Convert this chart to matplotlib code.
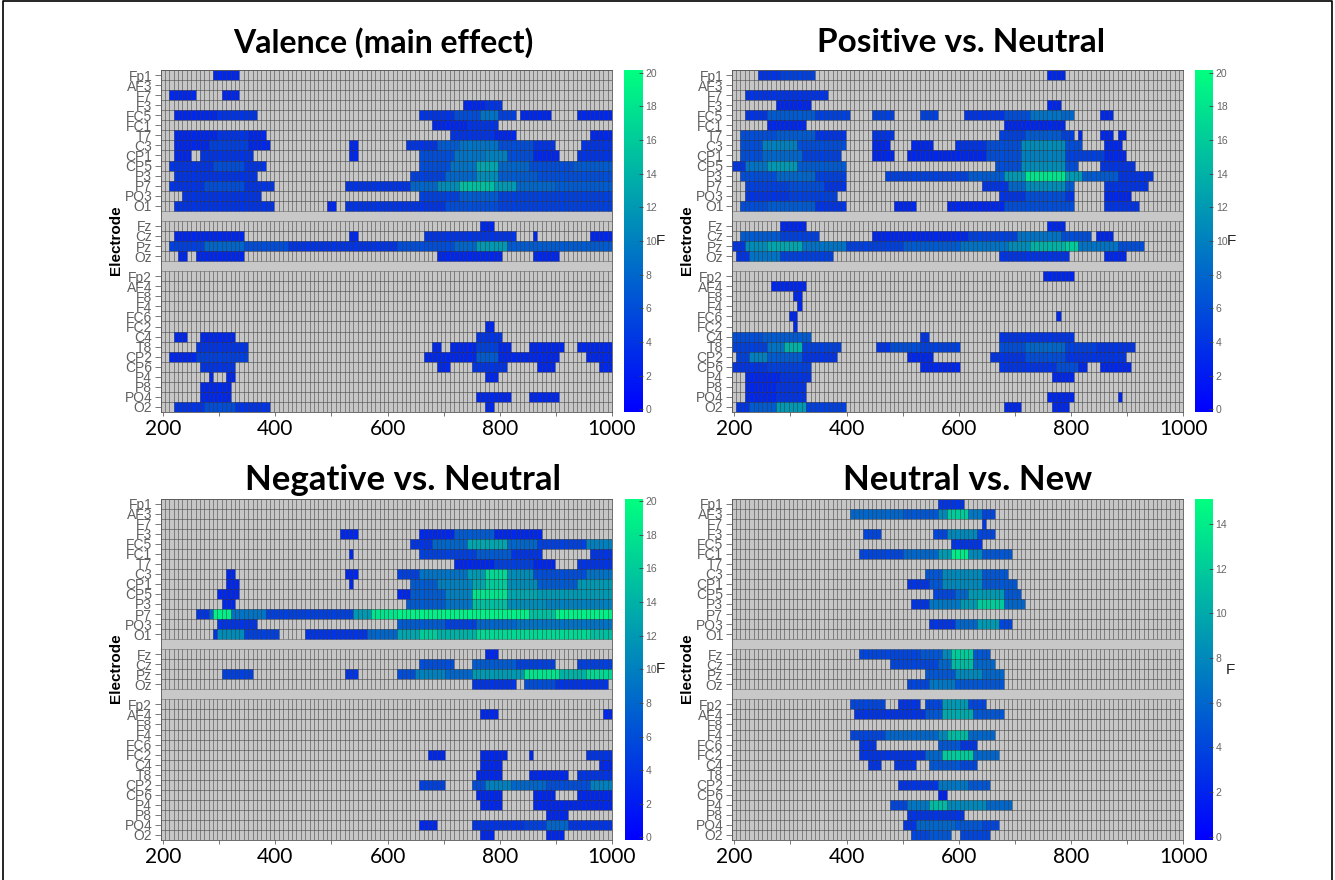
import numpy as np
import matplotlib
matplotlib.use("Agg")
import matplotlib.pyplot as plt
from matplotlib.colors import LinearSegmentedColormap, Normalize
from matplotlib.lines import Line2D

# =========================
# CONFIG
# =========================
W, H = 1335, 880
BIN_MS = 7.8125
T_START, T_END = 25 * BIN_MS, 128 * BIN_MS

LEFT_LABELS = ["Fp1", "AF3", "F7", "F3", "FC5", "FC1", "T7", "C3", "CP1", "CP5", "P3", "P7", "PO3", "O1"]
MID_LABELS = ["Fz", "Cz", "Pz", "Oz"]
RIGHT_LABELS = ["Fp2", "AF4", "F8", "F4", "FC6", "FC2", "C4", "T8", "CP2", "CP6", "P4", "P8", "PO4", "O2"]

# =========================
# DATA: electrode -> (from ms, to ms, F)
# =========================
VALENCE = {
    "Fp1": [(289, 335, 3)],
    "F7": [(211, 258, 3), (305, 335, 3)],
    "F3": [(738, 770, 3), (770, 806, 4)],
    "FC5": [(219, 300, 3), (300, 366, 4), (660, 720, 4), (720, 765, 6), (765, 800, 9), (800, 830, 5), (838, 892, 3), (938, 1000, 3)],
    "FC1": [(683, 740, 3), (740, 799, 4)],
    "T7": [(219, 300, 3), (300, 350, 4), (350, 381, 3), (714, 790, 4), (790, 830, 3), (962, 1000, 3)],
    "C3": [(219, 280, 3), (280, 350, 5), (350, 389, 3), (528, 544, 3), (636, 690, 4), (690, 730, 7), (730, 800, 9), (800, 860, 6), (860, 900, 4), (946, 1000, 4)],
    "CP1": [(219, 250, 3), (266, 358, 4), (528, 544, 3), (660, 720, 6), (720, 770, 9), (770, 810, 10), (810, 860, 6), (860, 907, 3), (938, 1000, 4)],
    "CP5": [(211, 290, 4), (290, 340, 6), (340, 381, 4), (660, 710, 6), (710, 760, 9), (760, 800, 13), (800, 850, 8), (850, 930, 6), (930, 1000, 7)],
    "P3": [(219, 366, 4), (644, 700, 5), (700, 760, 8), (760, 800, 11), (800, 870, 7), (870, 1000, 6)],
    "P7": [(211, 270, 4), (270, 340, 6), (340, 397, 4), (521, 640, 4), (640, 690, 8), (690, 730, 11), (730, 790, 15), (790, 830, 12), (830, 900, 8), (900, 1000, 7)],
    "PO3": [(235, 373, 4), (660, 730, 5), (730, 800, 7), (800, 1000, 5)],
    "O1": [(219, 397, 4), (490, 505, 3), (521, 700, 4), (700, 800, 6), (800, 1000, 5)],
    "Fz": [(768, 792, 3)],
    "Cz": [(219, 343, 3), (528, 544, 3), (667, 830, 4), (861, 869, 3), (962, 1000, 3)],
    "Pz": [(211, 270, 5), (270, 340, 8), (340, 420, 6), (420, 620, 4), (620, 720, 6), (720, 760, 8), (760, 810, 12), (810, 900, 7), (900, 1000, 7)],
    "Oz": [(227, 242, 3), (258, 343, 3), (691, 806, 3), (861, 907, 3)],
    "FC2": [(776, 792, 3)],
    "C4": [(219, 242, 3), (266, 327, 3), (761, 806, 4)],
    "T8": [(258, 350, 4), (683, 698, 3), (714, 760, 3), (760, 800, 5), (800, 822, 3), (853, 915, 3), (938, 1000, 3)],
    "CP2": [(211, 258, 3), (258, 350, 5), (667, 760, 3), (760, 800, 7), (800, 907, 3), (954, 1000, 3)],
    "CP6": [(266, 327, 4), (691, 714, 3), (753, 815, 4), (869, 900, 3), (977, 1000, 3)],
    "P4": [(281, 289, 3), (312, 327, 3), (776, 799, 3)],
    "P8": [(266, 320, 3)],
    "PO4": [(266, 320, 3), (761, 822, 3), (853, 907, 3)],
    "O2": [(219, 270, 4), (270, 330, 6), (330, 389, 4), (776, 792, 3)],
}

POSITIVE = {
    "Fp1": [(242, 280, 4), (280, 342, 5), (760, 791, 3)],
    "F7": [(219, 300, 4), (300, 365, 4)],
    "F3": [(272, 335, 3), (760, 783, 3)],
    "FC5": [(219, 260, 4), (260, 340, 7), (340, 404, 5), (444, 482, 5), (529, 560, 5), (613, 680, 4), (680, 730, 6), (730, 780, 9), (780, 806, 8), (853, 876, 3)],
    "FC1": [(258, 327, 3), (682, 791, 3)],
    "T7": [(210, 270, 6), (270, 340, 7), (340, 397, 4), (444, 482, 4), (675, 720, 5), (720, 780, 7), (780, 806, 5), (814, 822, 3), (853, 876, 3), (884, 899, 3)],
    "C3": [(210, 250, 6), (250, 310, 10), (310, 397, 6), (444, 475, 3), (513, 552, 3), (590, 650, 4), (650, 710, 6), (710, 790, 11), (790, 822, 6), (861, 892, 3)],
    "CP1": [(210, 250, 6), (250, 320, 8), (320, 389, 5), (444, 482, 3), (505, 650, 3), (650, 710, 6), (710, 790, 10), (790, 860, 5), (860, 899, 3)],
    "CP5": [(195, 220, 4), (220, 260, 9), (260, 310, 12), (310, 397, 7), (667, 710, 6), (710, 790, 11), (790, 814, 6), (853, 915, 4)],
    "P3": [(210, 270, 6), (270, 340, 8), (340, 397, 5), (467, 620, 5), (620, 680, 7), (680, 720, 12), (720, 790, 18), (790, 820, 12), (820, 880, 7), (880, 945, 4)],
    "P7": [(219, 300, 5), (300, 360, 6), (360, 397, 4), (644, 690, 4), (690, 720, 8), (720, 790, 11), (790, 806, 7), (861, 938, 4)],
    "PO3": [(219, 300, 4), (300, 381, 5), (675, 720, 4), (720, 790, 6), (790, 806, 4), (861, 907, 3)],
    "O1": [(210, 260, 6), (260, 340, 7), (340, 397, 4), (482, 520, 3), (575, 680, 3), (680, 806, 6), (861, 923, 4)],
    "Fz": [(280, 327, 3), (760, 791, 3)],
    "Cz": [(210, 280, 7), (280, 350, 5), (444, 620, 3), (620, 700, 5), (700, 780, 9), (780, 837, 6), (846, 877, 3)],
    "Pz": [(195, 220, 4), (220, 260, 11), (260, 320, 13), (320, 400, 9), (400, 500, 5), (500, 600, 7), (600, 690, 9), (690, 730, 11), (730, 790, 14), (790, 815, 16), (815, 880, 9), (880, 930, 6)],
    "Oz": [(202, 230, 4), (230, 280, 9), (280, 373, 5), (675, 800, 4), (861, 899, 3)],
    "Fp2": [(752, 807, 3)],
    "AF4": [(265, 327, 3)],
    "F8": [(304, 319, 3)],
    "F4": [(311, 319, 3)],
    "FC6": [(296, 312, 3), (775, 784, 3)],
    "FC2": [(304, 312, 3)],
    "C4": [(195, 250, 6), (250, 335, 7), (529, 544, 4), (675, 807, 4)],
    "T8": [(195, 260, 5), (260, 290, 9), (290, 320, 14), (320, 388, 5), (450, 480, 4), (480, 530, 6), (530, 598, 5), (668, 720, 6), (720, 790, 8), (790, 840, 5), (840, 915, 4)],
    "CP2": [(202, 230, 5), (230, 260, 10), (260, 320, 7), (320, 381, 4), (505, 552, 3), (660, 720, 4), (720, 790, 6), (790, 900, 4)],
    "CP6": [(195, 260, 4), (260, 335, 5), (529, 598, 3), (668, 770, 4), (770, 810, 6), (810, 831, 3), (854, 907, 3)],
    "P4": [(219, 280, 3), (280, 335, 4), (768, 807, 3)],
    "P8": [(219, 270, 3), (270, 327, 4)],
    "PO4": [(219, 270, 3), (270, 327, 4), (760, 807, 3), (884, 892, 3)],
    "O2": [(202, 230, 4), (230, 270, 7), (270, 330, 12), (330, 397, 5), (682, 714, 3), (768, 800, 3)],
}

NEGATIVE = {
    "F3": [(514, 544, 3), (660, 720, 3), (720, 790, 7), (790, 878, 3)],
    "FC5": [(637, 680, 4), (680, 740, 8), (740, 810, 13), (810, 870, 8), (870, 950, 5), (950, 1000, 10)],
    "FC1": [(529, 537, 3), (660, 760, 5), (760, 820, 7), (820, 878, 4), (962, 1000, 4)],
    "T7": [(722, 790, 3), (790, 860, 5), (860, 900, 3), (939, 1000, 4)],
    "C3": [(521, 544, 3), (312, 328, 3), (621, 660, 5), (660, 740, 9), (740, 770, 12), (770, 810, 17), (810, 860, 11), (860, 950, 6), (950, 1000, 9)],
    "CP1": [(312, 335, 3), (529, 537, 3), (637, 690, 7), (690, 750, 10), (750, 770, 13), (770, 810, 16), (810, 870, 11), (870, 940, 7), (940, 1000, 12)],
    "CP5": [(297, 335, 3), (621, 640, 3), (640, 700, 7), (700, 750, 10), (750, 810, 18), (810, 870, 13), (870, 1000, 12)],
    "P3": [(305, 328, 3), (629, 700, 7), (700, 750, 9), (750, 810, 15), (810, 880, 11), (880, 1000, 10)],
    "P7": [(258, 280, 4), (280, 290, 8), (290, 320, 19), (320, 380, 9), (380, 540, 5), (540, 570, 12), (570, 620, 18), (620, 850, 19), (850, 900, 15), (900, 1000, 19)],
    "PO3": [(297, 366, 4), (621, 700, 7), (700, 760, 5), (760, 830, 8), (830, 1000, 9)],
    "O1": [(289, 300, 4), (300, 340, 11), (340, 404, 5), (451, 560, 4), (560, 621, 8), (621, 660, 13), (660, 690, 16), (690, 760, 14), (760, 960, 17), (960, 1000, 15)],
    "Fz": [(777, 799, 3)],
    "Cz": [(660, 722, 6), (753, 830, 7), (830, 900, 5), (939, 1000, 5)],
    "Pz": [(305, 359, 5), (521, 544, 4), (621, 650, 6), (650, 700, 10), (700, 750, 8), (750, 840, 12), (840, 910, 18), (910, 950, 14), (950, 1000, 17)],
    "Oz": [(753, 831, 4), (846, 900, 6), (900, 993, 4)],
    "AF4": [(767, 798, 3), (985, 1000, 3)],
    "FC2": [(675, 706, 3), (767, 813, 3), (853, 861, 3), (953, 1000, 4)],
    "C4": [(767, 806, 3), (976, 1000, 3)],
    "T8": [(760, 806, 3), (853, 922, 3), (938, 1000, 4)],
    "CP2": [(659, 706, 5), (752, 770, 6), (770, 820, 10), (820, 880, 8), (880, 960, 6), (960, 1000, 10)],
    "CP6": [(760, 806, 3), (861, 899, 3), (938, 1000, 3)],
    "P4": [(767, 806, 3), (861, 1000, 3)],
    "P8": [(884, 922, 3)],
    "PO4": [(659, 690, 3), (752, 840, 4), (840, 880, 5), (880, 920, 8), (920, 1000, 4)],
    "O2": [(767, 790, 3), (884, 915, 3)],
}

NEW = {
    "Fp1": [(560, 606, 3)],
    "AF3": [(405, 500, 6), (500, 560, 5), (560, 580, 8), (580, 620, 12), (620, 640, 7), (640, 667, 4)],
    "F7": [(644, 652, 3)],
    "F3": [(428, 459, 4), (552, 580, 4), (580, 630, 8), (630, 667, 4)],
    "FC5": [(583, 644, 3)],
    "FC1": [(420, 500, 4), (500, 560, 6), (560, 585, 9), (585, 615, 14), (615, 640, 8), (640, 698, 5)],
    "C3": [(536, 570, 5), (570, 640, 8), (640, 690, 5)],
    "CP1": [(506, 545, 3), (545, 570, 5), (570, 640, 8), (640, 706, 5)],
    "CP5": [(552, 590, 4), (590, 620, 6), (620, 680, 9), (680, 714, 5)],
    "P3": [(514, 550, 3), (550, 600, 7), (600, 630, 9), (630, 680, 12), (680, 721, 6)],
    "PO3": [(544, 590, 3), (590, 630, 6), (630, 670, 9), (670, 698, 4)],
    "Fz": [(420, 530, 4), (530, 570, 5), (570, 585, 8), (585, 625, 12), (625, 660, 5)],
    "Cz": [(474, 560, 4), (560, 585, 6), (585, 625, 11), (625, 667, 6)],
    "Pz": [(536, 590, 5), (590, 640, 8), (640, 683, 6)],
    "Oz": [(506, 550, 4), (550, 590, 7), (590, 640, 5), (640, 683, 5)],
    "Fp2": [(405, 467, 4), (490, 529, 3), (536, 570, 4), (570, 620, 9), (620, 652, 4)],
    "AF4": [(413, 540, 3), (540, 570, 5), (570, 625, 10), (625, 683, 5)],
    "F4": [(405, 470, 4), (470, 560, 6), (560, 580, 8), (580, 615, 11), (615, 667, 6)],
    "FC6": [(420, 451, 3), (560, 600, 5), (600, 636, 3)],
    "FC2": [(420, 540, 3), (540, 570, 6), (570, 625, 12), (625, 675, 6)],
    "C4": [(436, 459, 3), (482, 521, 3), (544, 600, 5), (600, 636, 4)],
    "CP2": [(490, 560, 3), (560, 620, 7), (620, 660, 5)],
    "CP6": [(560, 575, 2)],
    "P4": [(474, 510, 4), (510, 550, 7), (550, 580, 11), (580, 650, 8), (650, 698, 6)],
    "P8": [(506, 613, 3)],
    "PO4": [(498, 520, 3), (520, 590, 6), (590, 640, 5), (640, 675, 4)],
    "O2": [(514, 550, 4), (550, 583, 5), (598, 660, 4)],
}

TITLES = ["Valence (main effect)", "Positive vs. Neutral", "Negative vs. Neutral", "Neutral vs. New"]
PANEL_DATA = [VALENCE, POSITIVE, NEGATIVE, NEW]
F_MAX = [20, 20, 20, 15]
F_TICKS = [list(range(0, 21, 2)), list(range(0, 21, 2)), list(range(0, 21, 2)), list(range(0, 15, 2))]
X_TICKS = [200, 300, 400, 500, 600, 700, 800, 900, 1000]
X_TICK_LABELS = ["200", "", "400", "", "600", "", "800", "", "1000"]

# px boxes: left, right, top, bottom, colorbar left, colorbar right, title x, title y, title size
PANELS = [
    (160.5, 612, 70, 412, 624, 642.5, 383, 43, 23),
    (731.7, 1183.3, 70, 412, 1195, 1213, 961, 43, 24),
    (160.5, 612, 498.5, 840, 624.5, 642.5, 403, 480, 25),
    (731.7, 1183.3, 498.5, 840, 1194.5, 1212.5, 968, 480, 25),
]

GRAY = "#c6c6c6"
GAP_GRAY = "#c8c8c8"
GRID_COLOR = (0.05, 0.05, 0.05, 0.36)

cmap = LinearSegmentedColormap.from_list("bluegreen", ["#0000ff", "#00ff80"]).copy()
cmap.set_bad(GRAY)

# =========================
# BUILD GRIDS
# =========================
t_edges = np.arange(25, 129) * BIN_MS
t_mid = (t_edges[:-1] + t_edges[1:]) / 2


def block_grid(labels, rows):
    grid = np.full((len(labels), len(t_mid)), np.nan)
    for i, name in enumerate(labels):
        for t0, t1, f in rows.get(name, []):
            grid[i, (t_mid >= t0) & (t_mid < t1)] = f
    return np.ma.masked_invalid(grid)


def box(left, right, top, bottom):
    return [left / W, 1 - bottom / H, (right - left) / W, (bottom - top) / H]


# =========================
# PLOT
# =========================
fig = plt.figure(figsize=(W / 100, H / 100), dpi=100, facecolor="white")

for k, spec in enumerate(PANELS):
    left, right, top, bottom, c_left, c_right, title_x, title_y, title_size = spec
    rows = PANEL_DATA[k]
    ax = fig.add_axes(box(left, right, top, bottom))
    ax.set_facecolor(GAP_GRAY)

    # one row unit per electrode, one row of gap between the blocks
    norm = Normalize(vmin=-0.15, vmax=F_MAX[k] + 0.15)
    y0 = 0
    y_ticks, y_labels = [], []
    for labels in (LEFT_LABELS, MID_LABELS, RIGHT_LABELS):
        y_edges = y0 + np.arange(len(labels) + 1)
        mesh = ax.pcolormesh(t_edges, y_edges, block_grid(labels, rows), cmap=cmap, norm=norm,
                             edgecolors=[GRID_COLOR], linewidth=0.55, antialiased=True)
        y_ticks += list(y_edges[:-1] + 0.5)
        y_labels += labels
        y0 += len(labels) + 1

    ax.set_xlim(T_START, T_END)
    ax.set_ylim(34, 0)
    ax.set_yticks(y_ticks)
    ax.set_yticklabels(y_labels, family="Liberation Sans", fontsize=10, color="#606060")
    ax.set_xticks(X_TICKS)
    ax.set_xticklabels(X_TICK_LABELS, family="Lato", fontsize=15, color="black")
    ax.tick_params(axis="y", length=4, width=0.7, color="#777777", pad=2)
    ax.tick_params(axis="x", length=3, width=0.7, color="#777777", pad=2)
    for s in ax.spines.values():
        s.set_linewidth(0.6)
        s.set_color("#555555")

    fig.text(title_x / W, 1 - title_y / H, TITLES[k], family="Lato", fontweight="bold",
             fontsize=title_size, ha="center", va="center", color="black")
    fig.text((left - 44.5) / W, 1 - ((top + bottom) / 2 - 1) / H, "Electrode", family="Liberation Sans",
             fontweight="bold", fontsize=11, rotation=90, ha="center", va="center")

    # colorbar
    cax = fig.add_axes(box(c_left, c_right, top, bottom))
    cb = fig.colorbar(mesh, cax=cax)
    cb.set_ticks(F_TICKS[k])
    cb.outline.set_visible(False)
    cax.tick_params(axis="y", direction="in", length=3, width=0.6, color="#444444",
                    labelsize=7.5, labelcolor="#666666", pad=2)
    for lab in cax.get_yticklabels():
        lab.set_family("Liberation Sans")
    if k == 3:
        f_y = 670
        f_x = c_right + 18
    else:
        f_y = (top + bottom) / 2
        f_x = c_right + 18
    fig.text(f_x / W, 1 - f_y / H, "F", family="Liberation Sans", fontsize=11,
             ha="center", va="center", color="#222222")

# black frame round the picture, open at the bottom
frame_x = [3 / W, 3 / W, 1332 / W, 1332 / W]
frame_y = [0, 1 - 1.5 / H, 1 - 1.5 / H, 0]
fig.add_artist(Line2D(frame_x, frame_y, color="black", linewidth=1.2))

fig.savefig("out.png", dpi=100)
plt.close(fig)
